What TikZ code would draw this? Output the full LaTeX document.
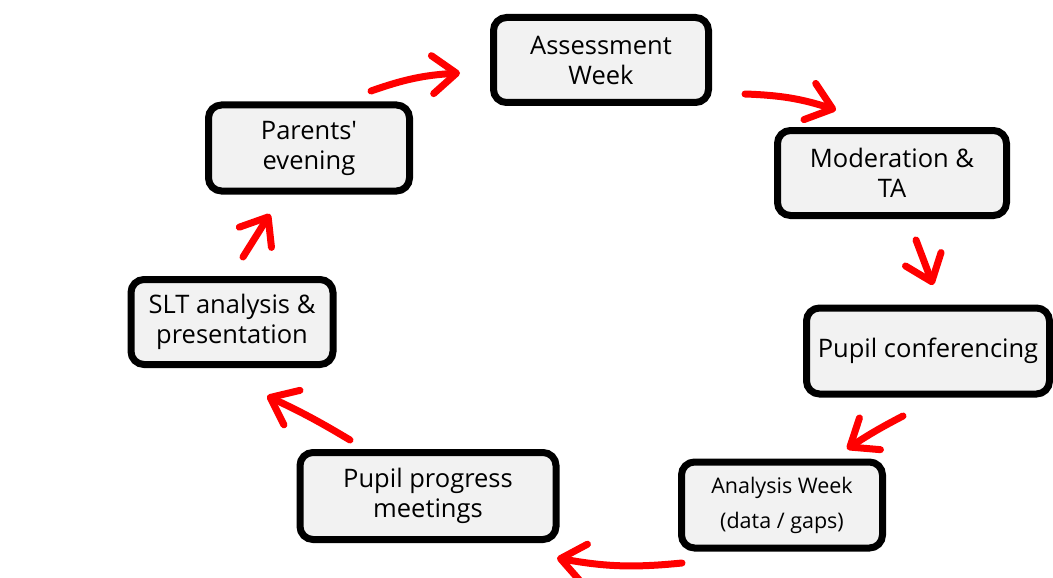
\documentclass[tikz,border=0pt]{standalone}
\usepackage{fontspec}
\setmainfont{Open Sans}
\usetikzlibrary{arrows.meta}
\begin{document}
\begin{tikzpicture}[x=1pt,y=-1pt,
  stagebox/.style={draw=black, line width=7pt, rounded corners=13pt, fill=black!5,
    align=center, font=\fontsize{25.5}{30}\selectfont, inner sep=2pt},
  cyc/.style={draw=red, line width=7pt, line cap=round,
    -{Straight Barb[round, length=24pt, width=38pt]}}]
\useasboundingbox (0,0) rectangle (1053,578);
\fill[white] (0,0) rectangle (1053,578);
\node[stagebox, minimum width=215pt, minimum height=85pt] (aw) at (601,60) {Assessment\\Week};
\node[stagebox, minimum width=229pt, minimum height=85pt] (mt) at (892,173) {Moderation \&\\TA};
\node[stagebox, minimum width=243pt, minimum height=86pt] (pc) at (928,351) {Pupil conferencing};
\node[stagebox, minimum width=201pt, minimum height=86pt, font=\fontsize{21.5}{35}\selectfont] (an) at (782,505) {Analysis Week\\(data / gaps)};
\node[stagebox, minimum width=256pt, minimum height=87pt] (pp) at (428,496) {Pupil progress\\meetings};
\node[stagebox, minimum width=202pt, minimum height=85pt] (slt) at (232,322) {SLT analysis \&\\presentation};
\node[stagebox, minimum width=201pt, minimum height=86pt] (pe) at (309,148) {Parents\textquotesingle\\evening};
\coordinate (a1s) at (371,91); \coordinate (a1e) at (460,73);
\coordinate (a2s) at (745,94); \coordinate (a2e) at (836,110);
\coordinate (a3s) at (916,240); \coordinate (a3e) at (933,285);
\coordinate (a4s) at (903,416); \coordinate (a4e) at (847,449);
\coordinate (a5s) at (682,563); \coordinate (a5e) at (557,558);
\coordinate (a6s) at (350,440); \coordinate (a6e) at (267,396);
\coordinate (a7s) at (243,257); \coordinate (a7e) at (270,214);
\draw[cyc] (a1s) to[bend left=8] (a1e);
\draw[cyc] (a2s) to[bend left=8] (a2e);
\draw[cyc] (a3s) -- (a3e);
\draw[cyc] (a4s) to[bend right=3] (a4e);
\draw[cyc] (a5s) to[bend left=8] (a5e);
\draw[cyc] (a6s) to[bend right=3] (a6e);
\draw[cyc] (a7s) -- (a7e);
\end{tikzpicture}
\end{document}
